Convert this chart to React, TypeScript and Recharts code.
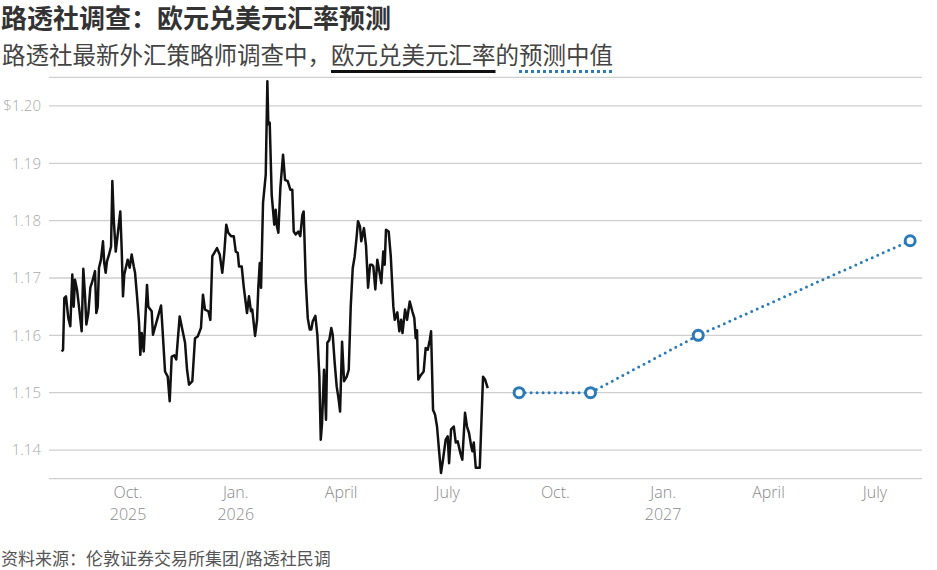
import { CartesianGrid, Line, LineChart, XAxis, YAxis } from "recharts";

const DAY = 86400000;
const BASE = Date.UTC(2025, 7, 1);

// spot EUR/USD, days after 1 Aug 2025
const histDays = [
  4.4, 5.5, 6.6, 8.0, 10.0, 11.7, 13.4, 14.6, 15.7, 17.4, 19.1, 21.4, 22.8, 24.3, 25.4, 27.1,
  28.8, 30.5, 32.8, 33.9, 35.1, 36.2, 37.9, 39.6, 40.7, 41.9, 43.0, 44.8, 46.5, 47.6, 48.8, 50.5,
  52.2, 54.4, 55.6, 56.7, 57.8, 60.7, 62.4, 64.1, 65.9, 67.0, 68.7, 70.4, 71.5, 72.7, 74.4, 77.2,
  78.3, 81.2, 82.3, 85.8, 89.2, 90.3, 92.6, 94.9, 96.6, 98.3, 100.5, 102.2, 105.1, 106.8, 109.7, 111.4,
  113.1, 115.9, 118.2, 120.5, 123.3, 125.0, 126.7, 129.6, 131.3, 133.0, 134.7, 137.0, 139.3, 141.5, 143.2, 144.9,
  146.6, 149.0, 151.3, 153.0, 154.7, 155.8, 158.1, 159.8, 162.6, 164.3, 166.0, 167.1, 169.5, 171.2, 172.3, 173.5,
  174.6, 176.3, 178.6, 180.0, 180.8, 182.0, 183.7, 185.9, 187.1, 188.2, 189.4, 191.1, 193.4, 195.1, 197.4, 199.6,
  201.3, 202.5, 204.2, 206.4, 208.1, 209.9, 211.0, 212.8, 214.5, 216.2, 217.5, 218.7, 221.0, 222.7, 224.4, 225.6,
  226.7, 228.4, 230.1, 231.2, 232.9, 234.6, 235.8, 237.5, 239.2, 240.9, 242.1, 243.8, 245.5, 247.8, 249.5, 251.2,
  252.9, 254.6, 256.3, 257.4, 259.1, 260.2, 262.5, 264.3, 266.0, 267.7, 269.4, 270.5, 272.2, 273.9, 275.6, 277.3,
  279.0, 280.2, 281.3, 283.6, 285.4, 287.6, 288.8, 291.0, 292.7, 294.2, 295.4, 297.6, 299.3, 301.6, 303.8, 305.5,
  306.7, 307.8, 308.9, 311.2, 313.5, 315.2, 317.0, 318.7, 319.8, 321.5, 323.2, 324.9, 326.6, 328.3, 330.0, 332.3,
  334.0, 335.2, 336.9, 339.2, 340.9, 342.6, 344.8, 346.5, 348.8, 350.5, 352.2, 353.9, 355.1, 356.3, 358.0, 361.4,
  364.2, 365.9, 368.2,
];

const histRates = [
  1.1572, 1.1575, 1.1665, 1.1668, 1.163, 1.1616, 1.1706, 1.165, 1.1697, 1.168, 1.165, 1.1607, 1.1716, 1.1668, 1.1619, 1.1639,
  1.1683, 1.1694, 1.1712, 1.1639, 1.165, 1.1718, 1.1732, 1.1764, 1.1726, 1.1709, 1.1729, 1.1741, 1.1755, 1.1869, 1.1802, 1.1746,
  1.1776, 1.1816, 1.1749, 1.1668, 1.1706, 1.1732, 1.1718, 1.1741, 1.172, 1.1709, 1.1668, 1.1622, 1.1566, 1.1604, 1.1572, 1.1688,
  1.165, 1.1642, 1.1601, 1.1627, 1.1652, 1.1616, 1.1537, 1.1528, 1.1485, 1.1563, 1.1565, 1.1558, 1.1633, 1.1616, 1.1587, 1.154,
  1.1514, 1.152, 1.1595, 1.1598, 1.1613, 1.1671, 1.1645, 1.1642, 1.1627, 1.1738, 1.1744, 1.1752, 1.1741, 1.1709, 1.1744, 1.1793,
  1.1779, 1.1773, 1.1773, 1.1746, 1.1744, 1.172, 1.172, 1.1685, 1.1639, 1.1668, 1.1642, 1.1645, 1.1599, 1.1627, 1.1685, 1.1726,
  1.1683, 1.1831, 1.188, 1.2043, 1.1968, 1.1971, 1.1845, 1.1793, 1.1819, 1.179, 1.1779, 1.1857, 1.1915, 1.1871, 1.1869, 1.1854,
  1.1854, 1.1781, 1.1776, 1.1781, 1.1773, 1.181, 1.1816, 1.1694, 1.163, 1.161, 1.161, 1.1624, 1.1634, 1.1601, 1.1528, 1.1418,
  1.1447, 1.154, 1.1453, 1.1587, 1.1592, 1.1613, 1.1601, 1.1552, 1.1511, 1.1488, 1.1467, 1.1589, 1.152, 1.1528, 1.154, 1.165,
  1.1717, 1.1738, 1.1773, 1.1799, 1.179, 1.1764, 1.1787, 1.1755, 1.1683, 1.1723, 1.1723, 1.172, 1.168, 1.1732, 1.1712, 1.1691,
  1.1746, 1.1723, 1.1784, 1.1781, 1.1738, 1.165, 1.1627, 1.164, 1.1607, 1.1627, 1.1604, 1.1645, 1.1627, 1.1659, 1.1642, 1.163,
  1.1595, 1.1609, 1.1523, 1.1531, 1.1537, 1.1578, 1.1575, 1.1592, 1.1607, 1.147, 1.1462, 1.1441, 1.14, 1.136, 1.1383, 1.1418,
  1.1424, 1.1377, 1.1436, 1.1441, 1.1413, 1.1415, 1.1395, 1.1383, 1.1465, 1.1441, 1.143, 1.1409, 1.1398, 1.1413, 1.1369, 1.1369,
  1.1528, 1.1523, 1.1508,
];

// median forecasts from the poll
const forecastDates = ["2026-08-31", "2026-10-31", "2027-01-31", "2027-07-31"];
const forecastRates = [1.15, 1.15, 1.16, 1.1765];

const yTicks = [1.14, 1.15, 1.16, 1.17, 1.18, 1.19, 1.2];
const xTickDates = [
  "2025-10-01", "2026-01-01", "2026-04-01", "2026-07-01",
  "2026-10-01", "2027-01-01", "2027-04-01", "2027-07-01",
];
const xTickLabels = [
  ["Oct.", "2025"], ["Jan.", "2026"], ["April"], ["July"],
  ["Oct."], ["Jan.", "2027"], ["April"], ["July"],
];

const history = histDays.map((d, i) => ({ t: BASE + d * DAY, v: histRates[i] }));
const forecast = forecastDates.map((d, i) => ({ t: Date.parse(d), v: forecastRates[i] }));
const xTicks = xTickDates.map((d) => Date.parse(d));

const BLUE = "#2b7bb9";
const LABEL_FONT = "'Open Sans', 'DejaVu Sans', sans-serif";
const CJK_FONT = "'Noto Sans CJK SC', sans-serif";

function MonthTick({ x, y, payload }: any) {
  const lines = xTickLabels[xTicks.indexOf(payload.value)] ?? [];
  return (
    <text x={x} y={y} textAnchor="middle" fill="#8a8a8a" fontSize={16} fontWeight={300} fontFamily={LABEL_FONT}>
      {lines.map((s, k) => (
        <tspan key={k} x={x} dy={k === 0 ? "0.71em" : 22}>
          {s}
        </tspan>
      ))}
    </text>
  );
}

function ForecastDot({ cx, cy, index }: any) {
  return <circle key={index} cx={cx} cy={cy} r={5} fill="#fff" stroke={BLUE} strokeWidth={3} />;
}

export default function App() {
  return (
    <div
      style={{
        position: "absolute",
        left: 0,
        top: 0,
        width: 937,
        height: 570,
        overflow: "hidden",
        background: "#fff",
      }}
    >
      <div
        style={{
          position: "absolute",
          left: 1,
          top: 2,
          fontFamily: CJK_FONT,
          fontSize: 26,
          lineHeight: "30px",
          fontWeight: 700,
          color: "#333",
          whiteSpace: "nowrap",
        }}
      >
        路透社调查：欧元兑美元汇率预测
      </div>
      <div
        style={{
          position: "absolute",
          left: 2,
          top: 39,
          fontFamily: CJK_FONT,
          fontSize: 23.5,
          lineHeight: "31.5px",
          color: "#444",
          whiteSpace: "nowrap",
        }}
      >
        路透社最新外汇策略师调查中，
        <span
          style={{
            textDecoration: "underline",
            textDecorationColor: "#111",
            textDecorationThickness: 3,
            textUnderlineOffset: 6,
          }}
        >
          欧元兑美元汇率
        </span>
        的
        <span
          style={{
            textDecoration: "underline dotted",
            textDecorationColor: BLUE,
            textDecorationThickness: 3,
            textUnderlineOffset: 6,
          }}
        >
          预测中值
        </span>
      </div>

      <div style={{ position: "absolute", left: 0, top: 0 }}>
        <LineChart width={937} height={540} margin={{ top: 77.3, right: 15, bottom: 21.3, left: 0 }}>
          <CartesianGrid vertical={false} stroke="#cfcfcf" strokeWidth={1.3} />
          <XAxis
            type="number"
            dataKey="t"
            domain={[BASE - 6.5 * DAY, BASE + 739.1 * DAY]}
            ticks={xTicks}
            tick={<MonthTick />}
            tickLine={false}
            axisLine={false}
            height={40}
            interval={0}
            allowDataOverflow
          />
          <YAxis
            type="number"
            domain={[1.135, 1.205]}
            ticks={yTicks}
            width={49}
            tickLine={false}
            axisLine={false}
            interval={0}
            allowDataOverflow
            tickFormatter={(v: number) => (v === 1.2 ? "$1.20" : v.toFixed(2))}
            tick={{ fill: "#ababab", fontSize: 15, fontWeight: 300, fontFamily: LABEL_FONT }}
          />
          <Line
            data={history}
            dataKey="v"
            type="linear"
            stroke="#111"
            strokeWidth={2.5}
            strokeLinejoin="round"
            dot={false}
            activeDot={false}
            isAnimationActive={false}
          />
          <Line
            data={forecast}
            dataKey="v"
            type="linear"
            stroke={BLUE}
            strokeWidth={3}
            strokeDasharray="0 6"
            strokeLinecap="round"
            dot={<ForecastDot />}
            activeDot={false}
            isAnimationActive={false}
          />
        </LineChart>
      </div>

      <div
        style={{
          position: "absolute",
          left: 1,
          top: 548,
          fontFamily: CJK_FONT,
          fontSize: 17,
          lineHeight: "20px",
          color: "#555",
          whiteSpace: "nowrap",
        }}
      >
        资料来源：伦敦证券交易所集团/路透社民调
      </div>
    </div>
  );
}
